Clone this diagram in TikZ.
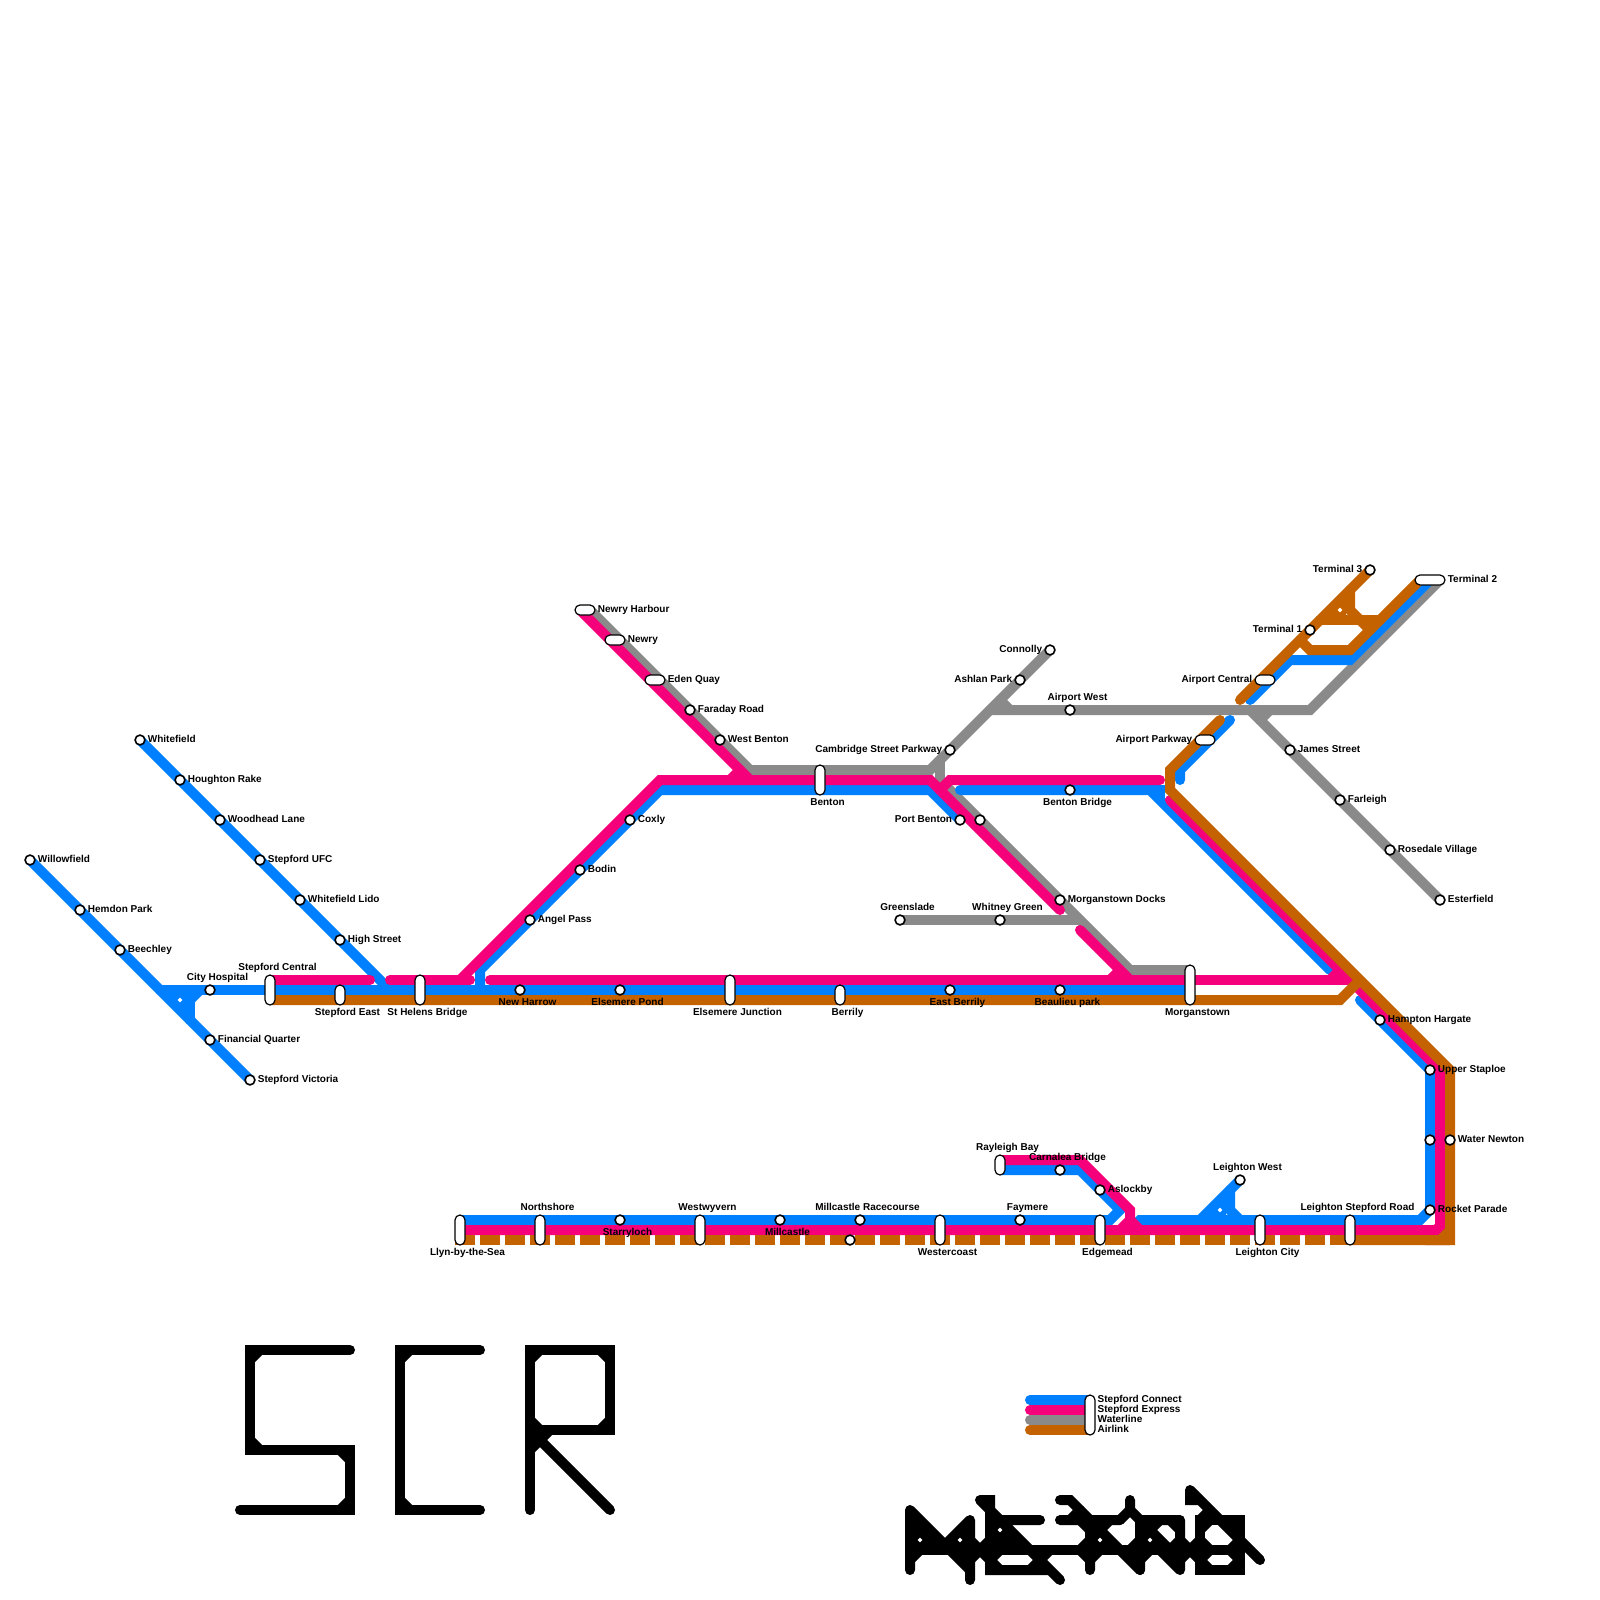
\documentclass[tikz,border=0pt]{standalone}
\usepackage{fontspec}
\setmainfont{Liberation Sans}
\usetikzlibrary{backgrounds,shapes.geometric}
\definecolor{connect}{HTML}{0080FF}
\definecolor{express}{HTML}{F5007A}
\definecolor{water}{HTML}{8A8A8A}
\definecolor{airlink}{HTML}{C46200}
\begin{document}
\begin{tikzpicture}[x=1pt,y=-1pt,label distance=2pt,
 lab/.style={font=\fontsize{10}{11}\selectfont\bfseries,inner sep=0pt,text height=7pt,text depth=2pt},
 stop/.style={circle,draw,fill=white,minimum size=9.8pt,inner sep=0pt,line width=1.6pt},
 pill/.style={rectangle,rounded corners=5pt,draw,fill=white,minimum width=10pt,minimum height=#1,inner sep=0pt,line width=1.2pt},
 hpill/.style={rectangle,rounded corners=5pt,draw,fill=white,minimum width=#1,minimum height=10pt,inner sep=0pt,line width=1.2pt},
 hole/.style={diamond,fill=white,minimum size=5pt,inner sep=0pt},
 lr/.style={label={[lab]right:#1}},
 ll/.style={label={[lab]left:#1}},
 lt/.style={label={[lab,xshift=7.5pt]above:#1}},
 lb/.style={label={[lab,xshift=7.5pt,yshift=-.7pt]below:#1}},
 ln/.style={line width=10pt,line cap=round,line join=miter},
 ink/.style={line width=10pt,line cap=round,line join=miter,black}]
\useasboundingbox (0,0) rectangle (1600,1600);
% left branches
\node[stop,lr=Whitefield] (whitefield) at (140,740) {};
\node[stop,lr=Houghton Rake] (houghton) at (180,780) {};
\node[stop,lr=Woodhead Lane] (woodhead) at (220,820) {};
\node[stop,lr=Stepford UFC] (ufc) at (260,860) {};
\node[stop,lr=Whitefield Lido] (lido) at (300,900) {};
\node[stop,lr=High Street] (high) at (340,940) {};
\node[stop,lr=Willowfield] (willowfield) at (30,860) {};
\node[stop,lr=Hemdon Park] (hemdon) at (80,910) {};
\node[stop,lr=Beechley] (beechley) at (120,950) {};
\node[stop,lt=City Hospital] (hospital) at (210,990) {};
\node[stop,lr=Financial Quarter] (financial) at (210,1040) {};
\node[stop,lr=Stepford Victoria] (victoria) at (250,1080) {};
% main row
\node[pill=30pt,lt=Stepford Central] (central) at (270,990) {};
\node[pill=20pt,lb=Stepford East] (east) at (340,995) {};
\node[pill=30pt,lb=St Helens Bridge] (helens) at (420,990) {};
\node[stop,lb=New Harrow] (harrow) at (520,990) {};
\node[stop,lb=Elsemere Pond] (pond) at (620,990) {};
\node[pill=30pt,lb=Elsemere Junction] (elsemere) at (730,990) {};
\node[pill=20pt,lb=Berrily] (berrily) at (840,995) {};
\node[stop,lb=East Berrily] (eastberrily) at (950,990) {};
\node[stop,lb=Beaulieu park] (beaulieu) at (1060,990) {};
\node[pill=40pt,lb=Morganstown] (morganstown) at (1190,985) {};
% middle
\node[stop,lr=Angel Pass] (angel) at (530,920) {};
\node[stop,lr=Bodin] (bodin) at (580,870) {};
\node[stop,lr=Coxly] (coxly) at (630,820) {};
\node[hpill=20pt,lr=Newry Harbour] (harbour) at (585,610) {};
\node[hpill=20pt,lr=Newry] (newry) at (615,640) {};
\node[hpill=20pt,lr=Eden Quay] (eden) at (655,680) {};
\node[stop,lr=Faraday Road] (faraday) at (690,710) {};
\node[stop,lr=West Benton] (westbenton) at (720,740) {};
\node[pill=30pt,lb=Benton] (benton) at (820,780) {};
\node[stop,ll=Cambridge Street Parkway] (cambridge) at (950,750) {};
\node[stop,ll=Ashlan Park] (ashlan) at (1020,680) {};
\node[stop,ll=Connolly] (connolly) at (1050,650) {};
\node[stop,lt=Airport West] (airportwest) at (1070,710) {};
\node[stop,lb=Benton Bridge] (bentonbridge) at (1070,790) {};
\node[stop,ll=Port Benton] (portbenton) at (960,820) {};
\node[stop] (bentonsouth) at (980,820) {};
\node[stop,lt=Greenslade] (greenslade) at (900,920) {};
\node[stop,lt=Whitney Green] (whitney) at (1000,920) {};
\node[stop,lr=Morganstown Docks] (docks) at (1060,900) {};
% airport
\node[stop,ll=Terminal 3] (terminalc) at (1370,570) {};
\node[hpill=30pt,lr=Terminal 2] (terminalb) at (1430,580) {};
\node[stop,ll=Terminal 1] (terminala) at (1310,630) {};
\node[hpill=20pt,ll=Airport Central] (airportcentral) at (1265,680) {};
\node[hpill=20pt,ll=Airport Parkway] (airportparkway) at (1205,740) {};
\node[stop,lr=James Street] (james) at (1290,750) {};
\node[stop,lr=Farleigh] (farleigh) at (1340,800) {};
\node[stop,lr=Rosedale Village] (rosedale) at (1390,850) {};
\node[stop,lr=Esterfield] (esterfield) at (1440,900) {};
\node[stop,lr=Hampton Hargate] (hampton) at (1380,1020) {};
\node[stop,lr=Upper Staploe] (staploe) at (1430,1070) {};
\node[stop] (staploesouth) at (1430,1140) {};
\node[stop,lr=Water Newton] (newton) at (1450,1140) {};
\node[stop,lr=Rocket Parade] (rocket) at (1430,1210) {};
% bottom row
\node[pill=30pt,lb=Llyn-by-the-Sea] (llyn) at (460,1230) {};
\node[pill=30pt,lt=Northshore] (northshore) at (540,1230) {};
\node[stop,lb=Starryloch] (starryloch) at (620,1220) {};
\node[pill=30pt,lt=Westwyvern] (westwyvern) at (700,1230) {};
\node[stop,lb=Millcastle] (millcastle) at (780,1220) {};
\node[stop,lt=Millcastle Racecourse] (racecourse) at (860,1220) {};
\node[stop] (millsouth) at (850,1240) {};
\node[pill=30pt,lb=Westercoast] (westercoast) at (940,1230) {};
\node[stop,lt=Faymere] (faymere) at (1020,1220) {};
\node[pill=30pt,lb=Edgemead] (edgemead) at (1100,1230) {};
\node[pill=20pt,lt=Rayleigh Bay] (rayleigh) at (1000,1165) {};
\node[stop,lt=Carnalea Bridge] (carnalea) at (1060,1170) {};
\node[stop,lr=Aslockby] (aslockby) at (1100,1190) {};
\node[stop,lt=Leighton West] (leightonwest) at (1240,1180) {};
\node[pill=30pt,lb=Leighton City] (leightoncity) at (1260,1230) {};
\node[pill=30pt,lt=Leighton Stepford Road] (leightonroad) at (1350,1230) {};
% legend
\node[pill=40pt] (key) at (1090,1415) {};
\node[lab,anchor=west] (keyconnect) at (1097.5,1400) {Stepford Connect};
\node[lab,anchor=west] (keyexpress) at (1097.5,1410) {Stepford Express};
\node[lab,anchor=west] (keywater) at (1097.5,1420) {Waterline};
\node[lab,anchor=west] (keyairlink) at (1097.5,1430) {Airlink};
% holes in the blobs
\node[hole] (holea) at (180,1000) {};
\node[hole] (holeb) at (1340,610) {};
\node[hole] (holec) at (1220,1210) {};
\node[hole] (holed) at (920,1540) {};
\node[hole] (holee) at (960,1540) {};
\node[hole] (holef) at (1000,1530) {};
\node[hole] (holeg) at (1100,1540) {};
\node[hole] (holeh) at (1150,1540) {};
\begin{scope}[on background layer]
% Waterline
\draw[ln,water] (harbour.center)+(5,0) -- (750,770) -- (930,770) -- (connolly.center);
\draw[ln,water,line cap=butt] (940,760) -- (940,780);
\draw[ln,water] (940,780) -- (1130,970) -- (morganstown.center |- 0,970);
\draw[ln,water,line cap=butt] (greenslade.center) -- (1080,920);
\draw[ln,water] (990,710) -- (1310,710) -- (1440,580);
\draw[ln,water] (1000,700) -- (1010,710);
\draw[ln,water] (1250,710) -- (esterfield.center);
\draw[ln,water] (1260,720) -- (1270,710);
% Connect
\draw[ln,connect] (whitefield.center) -- (390,990);
\draw[ln,connect] (willowfield.center) -- (victoria.center);
\draw[ln,connect] (160,990) -- (morganstown.center |- 0,990);
\draw[ln,connect] (190,990) -- (190,1020);
\draw[ln,connect] (200,990) -- (190,1000);
\fill[connect] (170,994) -- (186,994) -- (186,1010) -- cycle;
\draw[ln,connect] (480,990) -- (480,970) -- (660,790) -- (930,790) -- (portbenton.center);
\draw[ln,connect] (960,790) -- (1150,790) -- (1330,970);
\draw[ln,connect] (1150,790) -- (1160,790) -- (1160,798);
\draw[ln,connect] (hampton.center)+(-20,-20) -- (staploe.center) -- (rocket.center) -- (1420,1220) -- (1140,1220) -- (1130,1230);
\draw[ln,connect] (llyn.center |- 0,1220) -- (1110,1220) -- (1120,1210) -- (1080,1170) -- (rayleigh.center |- 0,1170);
\draw[ln,connect] (leightonwest.center) -- (1200,1220);
\draw[ln,connect] (1230,1190) -- (1230,1210) -- (1240,1220);
\fill[connect] (1226,1200) -- (1226,1216) -- (1210,1216) -- cycle;
\draw[ln,connect] (1250,700) -- (1290,660) -- (1350,660) -- (1430,580);
\draw[ln,connect] (1230,720) -- (1180,770) -- (1180,780);
% Airlink under the other lines
\fill[airlink] (1450,1215) -- (1450,1245) -- (1425,1245) -- cycle;
% Express
\draw[ln,express] (harbour.center)+(-5,0) -- (750,780);
\draw[ln,express] (470,980) -- (390,980);
\draw[ln,express] (central.center |- 0,980) -- (370,980);
\draw[ln,express] (460,980) -- (660,780) -- (930,780) -- (1060,910);
\draw[ln,express] (730,780) -- (740,770);
\draw[ln,express] (940,790) -- (950,780) -- (1160,780);
\draw[ln,express] (1080,930) -- (1130,980);
\draw[ln,express] (1110,980) -- (1120,970);
\draw[ln,express] (490,980) -- (1350,980);
\draw[ln,express] (1330,980) -- (1340,970);
\draw[ln,express] (1170,800) -- (1440,1070) -- (1440,1226) -- (1436,1230) -- (llyn.center |- 0,1230);
\draw[ln,express] (rayleigh.center |- 0,1160) -- (1080,1160) -- (1130,1210) -- (1130,1220) -- (1120,1230);
\draw[ln,express] (1130,1220) -- (1140,1230);
% Airlink
\draw[ln,airlink,line cap=butt] (central.center |- 0,1000) -- (1340,1000) -- (1360,980);
\draw[ln,airlink] (1240,700) -- (terminalc.center);
\draw[ln,airlink] (1300,640) -- (1310,650) -- (1350,650) -- (1420,580);
\draw[ln,airlink] (1320,620) -- (1380,620);
\draw[ln,airlink] (1350,590) -- (1350,610) -- (1360,620) -- (1370,630);
\fill[airlink] (1346,600) -- (1346,616) -- (1330,616) -- cycle;
\draw[ln,airlink] (1220,720) -- (1170,770) -- (1170,790) -- (1450,1070) -- (1450,1240) -- (1350,1240);
\draw[ln,airlink,line cap=butt,dash pattern=on 20pt off 5pt] (455,1240) -- (1350,1240);
% legend lines
\draw[ln,connect] (1030,1400) -- (key.center |- 0,1400);
\draw[ln,express] (1030,1410) -- (key.center |- 0,1410);
\draw[ln,water] (1030,1420) -- (key.center |- 0,1420);
\draw[ln,airlink] (1030,1430) -- (key.center |- 0,1430);
% SCR
\draw[ink] (350,1350) -- (250,1350) -- (250,1450) -- (350,1450) -- (350,1510) -- (240,1510);
\draw[ink] (250,1360) -- (260,1350) (250,1440) -- (260,1450) (340,1450) -- (350,1460) (350,1500) -- (340,1510);
\draw[ink] (480,1350) -- (400,1350) -- (400,1510) -- (480,1510);
\draw[ink] (400,1360) -- (410,1350) (400,1500) -- (410,1510);
\draw[ink] (530,1510) -- (530,1350) -- (610,1350) -- (610,1430) -- (530,1430);
\draw[ink] (530,1430) -- (610,1510);
\draw[ink] (530,1360) -- (540,1350) (600,1350) -- (610,1360) (610,1420) -- (600,1430) (540,1430) -- (530,1420) (530,1450) -- (550,1430);
% METRO
\draw[ink] (910,1550) -- (1240,1550);
\draw[ink] (910,1510) -- (910,1570) (910,1510) -- (970,1570) (970,1520) -- (970,1580) (970,1520) -- (940,1550) (910,1560) -- (920,1550);
\fill[black] (914,1520) -- (914,1546) -- (940,1546) -- cycle;
\fill[black] (950,1546) -- (966,1546) -- (966,1530) -- cycle;
\fill[black] (955,1553) -- (966,1553) -- (966,1562) -- cycle;
\draw[ink] (970,1540) -- (980,1550) -- (990,1540) (970,1560) -- (980,1550) -- (990,1560);
\draw[ink] (980,1500) -- (990,1500) -- (990,1570) -- (1050,1570) (980,1500) -- (1060,1580) (990,1520) -- (1040,1520);
\draw[ink] (990,1560) -- (1000,1550) (990,1560) -- (1000,1570) (1030,1570) -- (1050,1550);
\fill[black] (994,1524) -- (998,1524) -- (1020,1546) -- (994,1546) -- cycle;
\draw[ink] (1060,1500) -- (1070,1500) -- (1140,1570) (1060,1520) -- (1120,1520) (1090,1520) -- (1090,1570);
\draw[ink] (1070,1520) -- (1080,1510) (1080,1520) -- (1090,1530) (1080,1550) -- (1110,1520) (1080,1550) -- (1090,1560) (1090,1560) -- (1100,1550);
\fill[black] (1100,1535) -- (1094,1541) -- (1094,1546) -- (1110,1546) -- cycle;
\draw[ink] (1130,1500) -- (1130,1510) (1120,1520) -- (1130,1510) (1130,1510) -- (1140,1520) (1140,1540) -- (1130,1550);
\fill[black] (1125,1553) -- (1136,1553) -- (1136,1562) -- cycle;
\draw[ink] (1140,1520) -- (1180,1520) (1140,1520) -- (1140,1570) (1180,1520) -- (1180,1570) (1140,1520) -- (1170,1550) (1160,1550) -- (1180,1570);
\draw[ink] (1150,1530) -- (1160,1520) (1140,1560) -- (1150,1550) (1170,1520) -- (1180,1530) (1170,1550) -- (1180,1540);
\fill[black] (1144,1525) -- (1167,1546) -- (1144,1546) -- cycle;
\fill[black] (1165,1553) -- (1176,1553) -- (1176,1562) -- cycle;
\draw[ink] (1190,1490) -- (1260,1560) (1190,1490) -- (1190,1500) -- (1200,1500) (1200,1520) -- (1210,1510);
\draw[ink] (1200,1520) rectangle (1240,1570);
\fill[black] (1225,1524) -- (1236,1524) -- (1236,1536) -- cycle;
\draw[ink] (1180,1540) -- (1190,1550) -- (1200,1540) (1180,1560) -- (1190,1550) -- (1200,1560);
\draw[ink] (1200,1530) -- (1210,1520) (1200,1540) -- (1210,1550) (1240,1540) -- (1230,1550);
\draw[ink] (1200,1560) -- (1210,1550) (1200,1560) -- (1210,1570) (1230,1550) -- (1240,1560) (1240,1560) -- (1230,1570);
\end{scope}
\end{tikzpicture}
\end{document}
